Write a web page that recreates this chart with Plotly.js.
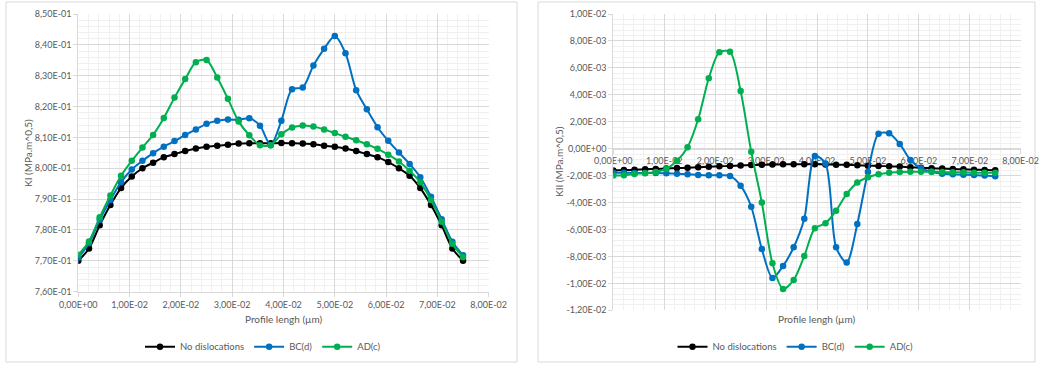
<!DOCTYPE html>
<html>
<head>
<meta charset="utf-8">
<script src="https://cdn.plot.ly/plotly-3.0.1.min.js"></script>
<style>html,body{margin:0;padding:0;background:#fff;}</style>
</head>
<body>
<div id="chart" style="width:1039px;height:365px;"></div>
<script>
// Profile length positions (µm)
const profileX = [0, 0.002083, 0.004167, 0.00625, 0.008333, 0.010417, 0.0125, 0.014583, 0.016667, 0.01875,
  0.020833, 0.022917, 0.025, 0.027083, 0.029167, 0.03125, 0.033333, 0.035417, 0.0375, 0.039583,
  0.041667, 0.04375, 0.045833, 0.047917, 0.05, 0.052083, 0.054167, 0.05625, 0.058333, 0.060417,
  0.0625, 0.064583, 0.066667, 0.06875, 0.070833, 0.072917, 0.075];

// KI (left chart)
const kiNoDisl = [0.7700, 0.7740, 0.7815, 0.7881, 0.7936, 0.7973, 0.8000, 0.8018, 0.8036, 0.8046,
  0.8056, 0.8064, 0.8070, 0.8073, 0.8076, 0.8080, 0.8081, 0.8081, 0.8081, 0.8082,
  0.8081, 0.8080, 0.8078, 0.8073, 0.8070, 0.8064, 0.8056, 0.8046, 0.8036, 0.8020,
  0.8000, 0.7976, 0.7936, 0.7881, 0.7815, 0.7740, 0.7700];
const kiBC = [0.7710, 0.7757, 0.7833, 0.7897, 0.7955, 0.7996, 0.8024, 0.8049, 0.8070, 0.8088,
  0.8108, 0.8126, 0.8144, 0.8154, 0.8158, 0.8157, 0.8162, 0.8138, 0.8075, 0.8154,
  0.8256, 0.8262, 0.8333, 0.8387, 0.8429, 0.8373, 0.8253, 0.8191, 0.8133, 0.8089,
  0.8051, 0.8014, 0.7971, 0.7908, 0.7835, 0.7762, 0.7718];
const kiAD = [0.7720, 0.7763, 0.7841, 0.7912, 0.7976, 0.8024, 0.8067, 0.8108, 0.8163, 0.8229,
  0.8289, 0.8344, 0.8351, 0.8294, 0.8225, 0.8152, 0.8107, 0.8075, 0.8075, 0.8110,
  0.8132, 0.8139, 0.8135, 0.8126, 0.8114, 0.8102, 0.8091, 0.8078, 0.8063, 0.8044,
  0.8022, 0.7992, 0.7955, 0.7897, 0.7827, 0.7755, 0.7712];

// KII (right chart)
const kiiNoDisl = [-0.00162, -0.00159, -0.00156, -0.00153, -0.00150, -0.00147, -0.00144, -0.00141, -0.00137, -0.00134,
  -0.00131, -0.00128, -0.00125, -0.00122, -0.00120, -0.00118, -0.00116, -0.00115, -0.00115, -0.00116,
  -0.00117, -0.00119, -0.00120, -0.00123, -0.00126, -0.00128, -0.00131, -0.00133, -0.00138, -0.00141,
  -0.00145, -0.00148, -0.00151, -0.00153, -0.00156, -0.00158, -0.00160];
const kiiBC = [-0.00178, -0.00178, -0.00180, -0.00180, -0.00180, -0.00183, -0.00186, -0.00190, -0.00195, -0.00198,
  -0.00198, -0.00202, -0.00275, -0.00431, -0.00745, -0.00960, -0.00871, -0.00732, -0.00520, -0.00054,
  -0.00110, -0.00732, -0.00846, -0.00559, -0.00173, 0.00111, 0.00114, 0.00035, -0.00084, -0.00146,
  -0.00171, -0.00186, -0.00190, -0.00193, -0.00195, -0.00200, -0.00205];
const kiiAD = [-0.00200, -0.00197, -0.00188, -0.00182, -0.00173, -0.00150, -0.00090, 0.00011, 0.00218, 0.00523,
  0.00716, 0.00720, 0.00428, -0.00022, -0.00400, -0.00851, -0.01042, -0.00975, -0.00797, -0.00591,
  -0.00554, -0.00460, -0.00336, -0.00252, -0.00212, -0.00190, -0.00178, -0.00173, -0.00171, -0.00171,
  -0.00171, -0.00173, -0.00175, -0.00175, -0.00178, -0.00178, -0.00178];

// Tick labels
const xTickVals = [0, 0.01, 0.02, 0.03, 0.04, 0.05, 0.06, 0.07, 0.08];
const xTickText = ["0,00E+00", "1,00E-02", "2,00E-02", "3,00E-02", "4,00E-02", "5,00E-02", "6,00E-02", "7,00E-02", "8,00E-02"];
const kiTickVals = [0.76, 0.77, 0.78, 0.79, 0.80, 0.81, 0.82, 0.83, 0.84, 0.85];
const kiTickText = ["7,60E-01", "7,70E-01", "7,80E-01", "7,90E-01", "8,00E-01", "8,10E-01", "8,20E-01", "8,30E-01", "8,40E-01", "8,50E-01"];
const kiiTickVals = [-0.012, -0.010, -0.008, -0.006, -0.004, -0.002, 0, 0.002, 0.004, 0.006, 0.008, 0.010];
const kiiTickText = ["-1,20E-02", "-1,00E-02", "-8,00E-03", "-6,00E-03", "-4,00E-03", "-2,00E-03", "0,00E+00", "2,00E-03", "4,00E-03", "6,00E-03", "8,00E-03", "1,00E-02"];

const seriesNames = ["No dislocations", "BC(d)", "AD(c)"];
const seriesColors = ["#000000", "#0070C0", "#00B050"];

const W = 1039, H = 365;
const px = v => v / W;
const py = v => (H - v) / H;

const FONT = "Lato, 'Open Sans', sans-serif";
const GREY = "#595959";

function tr(x, y, i, xa, ya, leg, show) {
  return {
    x: x, y: y, name: seriesNames[i], type: "scatter", mode: "lines+markers",
    xaxis: xa, yaxis: ya, legend: leg, showlegend: show,
    line: {color: seriesColors[i], width: 2, shape: "spline", smoothing: 0.8},
    marker: {color: seriesColors[i], size: 6.5}
  };
}

const data = [
  tr(profileX, kiNoDisl, 0, "x", "y", "legend", true),
  tr(profileX, kiBC, 1, "x", "y", "legend", true),
  tr(profileX, kiAD, 2, "x", "y", "legend", true),
  tr(profileX, kiiNoDisl, 0, "x2", "y2", "legend2", true),
  tr(profileX, kiiBC, 1, "x2", "y2", "legend2", true),
  tr(profileX, kiiAD, 2, "x2", "y2", "legend2", true)
];

const axBase = {
  showgrid: true, gridcolor: "#d9d9d9", gridwidth: 1,
  zeroline: false, showline: true, linecolor: "#d9d9d9", linewidth: 1,
  ticks: "outside", ticklen: 4, tickcolor: "#d9d9d9",
  tickfont: {family: FONT, size: 9, color: GREY},
  ticklabeloverflow: "allow",
  tickmode: "array", fixedrange: true
};

const kiiZeroFrac = 12 / 22;
const y2d0 = py(310.3), y2d1 = py(14);

const layout = {
  width: W, height: H, autosize: false,
  margin: {l: 0, r: 0, t: 0, b: 0},
  paper_bgcolor: "#ffffff", plot_bgcolor: "#ffffff",
  font: {family: FONT, color: GREY},
  xaxis: Object.assign({}, axBase, {
    domain: [px(78.3), px(488.7)], range: [0, 0.08], anchor: "y",
    tickvals: xTickVals, ticktext: xTickText,
    minor: {dtick: 0.002, showgrid: true, gridcolor: "#f0f0f0", ticks: ""}
  }),
  yaxis: Object.assign({}, axBase, {
    domain: [py(291.7), py(14)], range: [0.76, 0.85], anchor: "x",
    tickvals: kiTickVals, ticktext: kiTickText,
    minor: {dtick: 0.002, showgrid: true, gridcolor: "#f0f0f0", ticks: ""}
  }),
  xaxis2: Object.assign({}, axBase, {
    domain: [px(613.3), px(1020.7)], range: [0, 0.08],
    anchor: "free", position: y2d0 + (y2d1 - y2d0) * kiiZeroFrac,
    layer: "below traces",
    tickvals: xTickVals, ticktext: xTickText,
    minor: {dtick: 0.002, showgrid: true, gridcolor: "#f0f0f0", ticks: ""}
  }),
  yaxis2: Object.assign({}, axBase, {
    domain: [y2d0, y2d1], range: [-0.012, 0.010], anchor: "x2",
    tickvals: kiiTickVals, ticktext: kiiTickText,
    minor: {dtick: 0.0004, showgrid: true, gridcolor: "#f0f0f0", ticks: ""}
  }),
  legend: {
    orientation: "h", x: px(263), xanchor: "center", y: py(346.7), yanchor: "middle",
    font: {family: FONT, size: 9.5, color: GREY}, itemwidth: 30, bgcolor: "rgba(0,0,0,0)",
    itemclick: false, itemdoubleclick: false
  },
  legend2: {
    orientation: "h", x: px(795.5), xanchor: "center", y: py(346.7), yanchor: "middle",
    font: {family: FONT, size: 9.5, color: GREY}, itemwidth: 30, bgcolor: "rgba(0,0,0,0)",
    itemclick: false, itemdoubleclick: false
  },
  shapes: [
    {type: "rect", xref: "paper", yref: "paper", x0: px(6), x1: px(517), y0: py(362), y1: py(2),
     line: {color: "#d9d9d9", width: 1}, fillcolor: "rgba(0,0,0,0)", layer: "below"},
    {type: "rect", xref: "paper", yref: "paper", x0: px(538), x1: px(1035), y0: py(362), y1: py(2),
     line: {color: "#d9d9d9", width: 1}, fillcolor: "rgba(0,0,0,0)", layer: "below"}
  ],
  annotations: [
    {text: "KI (MPa.m^0,5)", xref: "paper", yref: "paper", x: px(28), y: py(153), textangle: -90,
     showarrow: false, xanchor: "center", yanchor: "middle", font: {family: FONT, size: 10, color: GREY}},
    {text: "KII (MPa.m^0,5)", xref: "paper", yref: "paper", x: px(559), y: py(162), textangle: -90,
     showarrow: false, xanchor: "center", yanchor: "middle", font: {family: FONT, size: 10, color: GREY}},
    {text: "Profile lengh (µm)", xref: "paper", yref: "paper", x: px(284), y: py(319),
     showarrow: false, xanchor: "center", yanchor: "middle", font: {family: FONT, size: 10, color: GREY}},
    {text: "Profile lengh (µm)", xref: "paper", yref: "paper", x: px(817), y: py(319),
     showarrow: false, xanchor: "center", yanchor: "middle", font: {family: FONT, size: 10, color: GREY}}
  ]
};

Plotly.newPlot("chart", data, layout, {staticPlot: true, displayModeBar: false});
</script>
</body>
</html>
